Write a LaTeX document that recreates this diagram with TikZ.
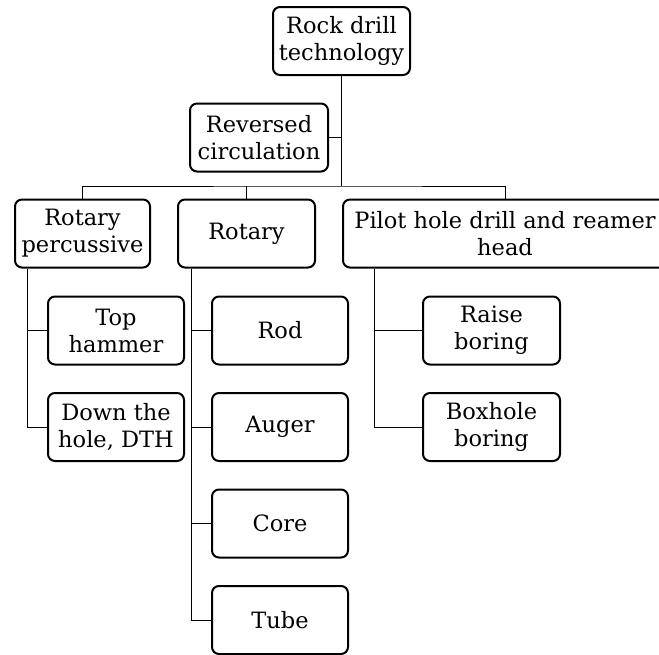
\documentclass[tikz,border=0pt]{standalone}
\usepackage{fontspec}
\setmainfont{DejaVu Serif}
\usetikzlibrary{positioning}

\begin{document}
\begin{tikzpicture}[x=1pt, y=1pt,
  box/.style = {draw, line width=2pt, rounded corners=7pt, align=center,
    minimum width=137pt, minimum height=68pt, inner sep=2pt,
    font=\fontsize{22.5}{27}\selectfont},
  link/.style = {line width=1pt},
  node distance=96.5pt]
  \useasboundingbox (0,0) rectangle (659,-654);
  % top level
  \node[box] (root) at (341.5,-41) {Rock drill\\technology};
  \node[box, minimum width=138pt] (rev) at (259,-137.5) {Reversed\\circulation};
  % second level
  \node[box, minimum width=135pt] (rp) at (82.5,-233.5) {Rotary\\percussive};
  \node[box] (rot) at (246.5,-233.5) {Rotary};
  \node[box, minimum width=324pt] (pilot) at (505,-233.5) {Pilot hole drill and reamer\\head};
  % children
  \node[box, minimum width=136pt] (top) at (116,-330.5) {Top\\hammer};
  \node[box, minimum width=136pt] (dth) [below of=top] {Down the\\hole, DTH};
  \node[box, minimum width=136pt] (rod) at (280,-330.5) {Rod};
  \node[box, minimum width=136pt] (auger) [below of=rod] {Auger};
  \node[box, minimum width=136pt] (core) [below of=auger] {Core};
  \node[box, minimum width=136pt] (tube) [below of=core] {Tube};
  \node[box] (raise) at (491.5,-330.5) {Raise\\boring};
  \node[box] (boxhole) [below of=raise] {Boxhole\\boring};
  % connectors
  \draw[link] (root.south) -- ++(0,-110) coordinate (bus);
  \draw[link] (rev.east) -- (rev.east -| bus);
  \draw[link] (rp.north) |- (bus) -| (pilot.north);
  \draw[link] (rot.north) -- (rot.north |- bus);
  \draw[link] ([xshift=13.5pt]rp.south west) |- (top.west);
  \draw[link] ([xshift=13.5pt]rp.south west) |- (dth.west);
  \draw[link] ([xshift=14.5pt]rot.south west) |- (rod.west);
  \draw[link] ([xshift=14.5pt]rot.south west) |- (auger.west);
  \draw[link] ([xshift=14.5pt]rot.south west) |- (core.west);
  \draw[link] ([xshift=14.5pt]rot.south west) |- (tube.west);
  \draw[link] ([xshift=32pt]pilot.south west) |- (raise.west);
  \draw[link] ([xshift=32pt]pilot.south west) |- (boxhole.west);
\end{tikzpicture}
\end{document}
